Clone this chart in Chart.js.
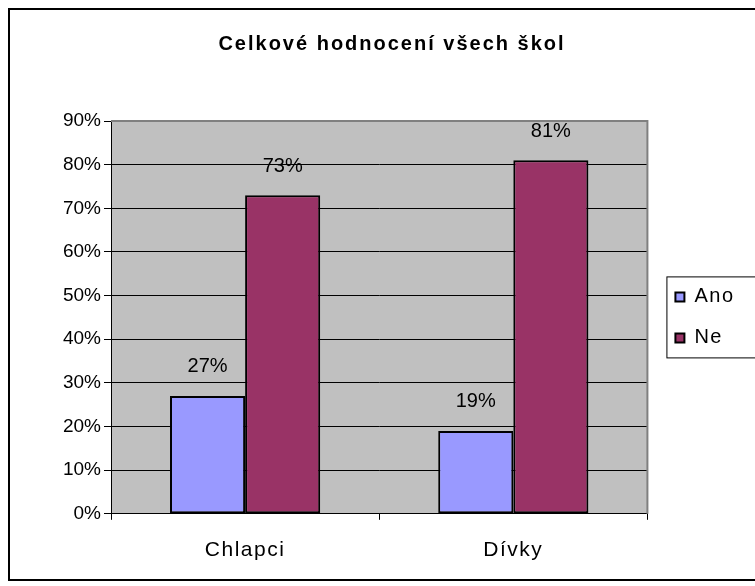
<!DOCTYPE html>
<html>
<head>
<meta charset="utf-8">
<script src="https://cdn.jsdelivr.net/npm/chart.js@4"></script>
<style>
  body { margin: 0; background: #fff; }
  canvas { display: block; }
</style>
</head>
<body>
<canvas id="chart" width="755" height="586"></canvas>
<script>
/* Data */
const categories = ['Chlapci', 'Dívky'];
const anoValues = [27, 19];
const neValues = [73, 81];
const seriesNames = ['Ano', 'Ne'];
const yTicks = [0, 10, 20, 30, 40, 50, 60, 70, 80, 90];

const FONT = '"Liberation Sans", Arial, sans-serif';

/* Wrap a draw method so its text gets some letter spacing (Excel look) */
function spaceOut(chart, box, method, spacing, dx) {
    if (!box || box['_spaced_' + method]) return;
    const fn = box[method].bind(box);
    box[method] = function (...args) {
        chart.ctx.save();
        chart.ctx.letterSpacing = spacing;
        if (dx) chart.ctx.translate(dx, 0);
        fn(...args);
        chart.ctx.restore();
    };
    box['_spaced_' + method] = true;
}

/* Gray plot area, gray top/right edges, outer frame, legend frame */
const excelFrame = {
    id: 'excelFrame',
    beforeDraw(chart) {
        const ctx = chart.ctx;
        const a = chart.chartArea;
        ctx.save();
        ctx.fillStyle = '#fff';
        ctx.fillRect(0, 0, chart.width, chart.height);
        ctx.fillStyle = '#c0c0c0';
        ctx.fillRect(a.left, a.top, a.right - a.left, a.bottom - a.top);
        ctx.restore();
    },
    beforeDatasetsDraw(chart) {
        const ctx = chart.ctx;
        const a = chart.chartArea;
        ctx.save();
        ctx.strokeStyle = '#808080';
        ctx.lineWidth = 2;
        ctx.beginPath();
        ctx.moveTo(a.left, a.top);
        ctx.lineTo(a.right, a.top);
        ctx.lineTo(a.right, a.bottom);
        ctx.stroke();
        ctx.restore();
    },
    afterDraw(chart) {
        const ctx = chart.ctx;
        const a = chart.chartArea;
        ctx.save();
        ctx.strokeStyle = '#000';
        ctx.lineWidth = 2;
        ctx.strokeRect(9, 9, chart.width + 20, 571);
        // legend frame
        const lg = chart.legend;
        const mid = (a.top + a.bottom) / 2;
        ctx.lineWidth = 1;
        ctx.strokeRect(lg.left + 12.5, mid - 40.5, chart.width, 81);
        ctx.restore();
    }
};

/* Layout tweaks: gap before legend, legend centred on plot, spaced text */
const layoutTweaks = {
    id: 'layoutTweaks',
    beforeLayout(chart) {
        const lg = chart.legend;
        if (lg && !lg._gapped) {
            const fit = lg.fit.bind(lg);
            lg.fit = function () { fit(); this.width += 7; };
            lg._gapped = true;
        }
    },
    afterLayout(chart) {
        const lg = chart.legend;
        const a = chart.chartArea;
        lg.left += 7;
        const d = (a.top + a.bottom) / 2 - (lg.top + lg.bottom) / 2;
        lg.top += d;
        lg.bottom += d;
        spaceOut(chart, chart.titleBlock, 'draw', '2px', 17);
        spaceOut(chart, chart.scales.x, 'drawLabels', '1.5px', 0);
        spaceOut(chart, lg, 'draw', '1.5px', 0);
    }
};

/* Value labels above the bars */
const valueLabels = {
    id: 'valueLabels',
    afterDatasetsDraw(chart) {
        const ctx = chart.ctx;
        ctx.save();
        ctx.font = '20px ' + FONT;
        ctx.fillStyle = '#000';
        ctx.textAlign = 'center';
        ctx.textBaseline = 'middle';
        chart.data.datasets.forEach((ds, i) => {
            chart.getDatasetMeta(i).data.forEach((bar, j) => {
                ctx.fillText(ds.data[j] + '%', bar.x, bar.y - 29);
            });
        });
        ctx.restore();
    }
};

function initChart() {
    const ctx = document.getElementById('chart');
    return new Chart(ctx, {
        type: 'bar',
        data: {
            labels: categories,
            datasets: [{
                label: seriesNames[0],
                data: anoValues,
                backgroundColor: '#9999ff',
                borderColor: '#000',
                borderWidth: 2,
                borderSkipped: false
            }, {
                label: seriesNames[1],
                data: neValues,
                backgroundColor: '#993366',
                borderColor: '#000',
                borderWidth: 2,
                borderSkipped: false
            }]
        },
        options: {
            responsive: false,
            animation: false,
            events: [],
            layout: { padding: { left: 10, top: 10, right: 15, bottom: 5 } },
            datasets: { bar: { categoryPercentage: 0.56, barPercentage: 1 } },
            scales: {
                x: {
                    grid: { display: true, drawOnChartArea: false, tickLength: 6, color: '#000', offset: true },
                    border: { color: '#000', width: 1 },
                    ticks: { color: '#000', padding: 18, font: { family: FONT, size: 21 } }
                },
                y: {
                    min: 0,
                    max: 90,
                    afterFit: (s) => { s.width = 101; },
                    afterBuildTicks: (s) => { s.ticks = yTicks.map(v => ({ value: v })); },
                    grid: {
                        color: (c) => c.tick && c.tick.value === 90 ? 'rgba(0,0,0,0)' : '#000',
                        tickColor: '#000',
                        tickLength: 7,
                        lineWidth: 1
                    },
                    border: { color: '#000', width: 1 },
                    ticks: {
                        color: '#000',
                        padding: 3,
                        font: { family: FONT, size: 19 },
                        callback: (v) => v + '%'
                    }
                }
            },
            plugins: {
                title: {
                    display: true,
                    text: 'Celkové hodnocení všech škol',
                    color: '#000',
                    font: { family: FONT, size: 20, weight: 'bold' },
                    padding: { top: 22, bottom: 65 }
                },
                legend: {
                    position: 'right',
                    labels: {
                        color: '#000',
                        boxWidth: 9,
                        boxHeight: 9,
                        padding: 21,
                        font: { family: FONT, size: 20 }
                    }
                },
                tooltip: { enabled: false }
            }
        },
        plugins: [excelFrame, layoutTweaks, valueLabels]
    });
}

const chart = initChart();
</script>
</body>
</html>
